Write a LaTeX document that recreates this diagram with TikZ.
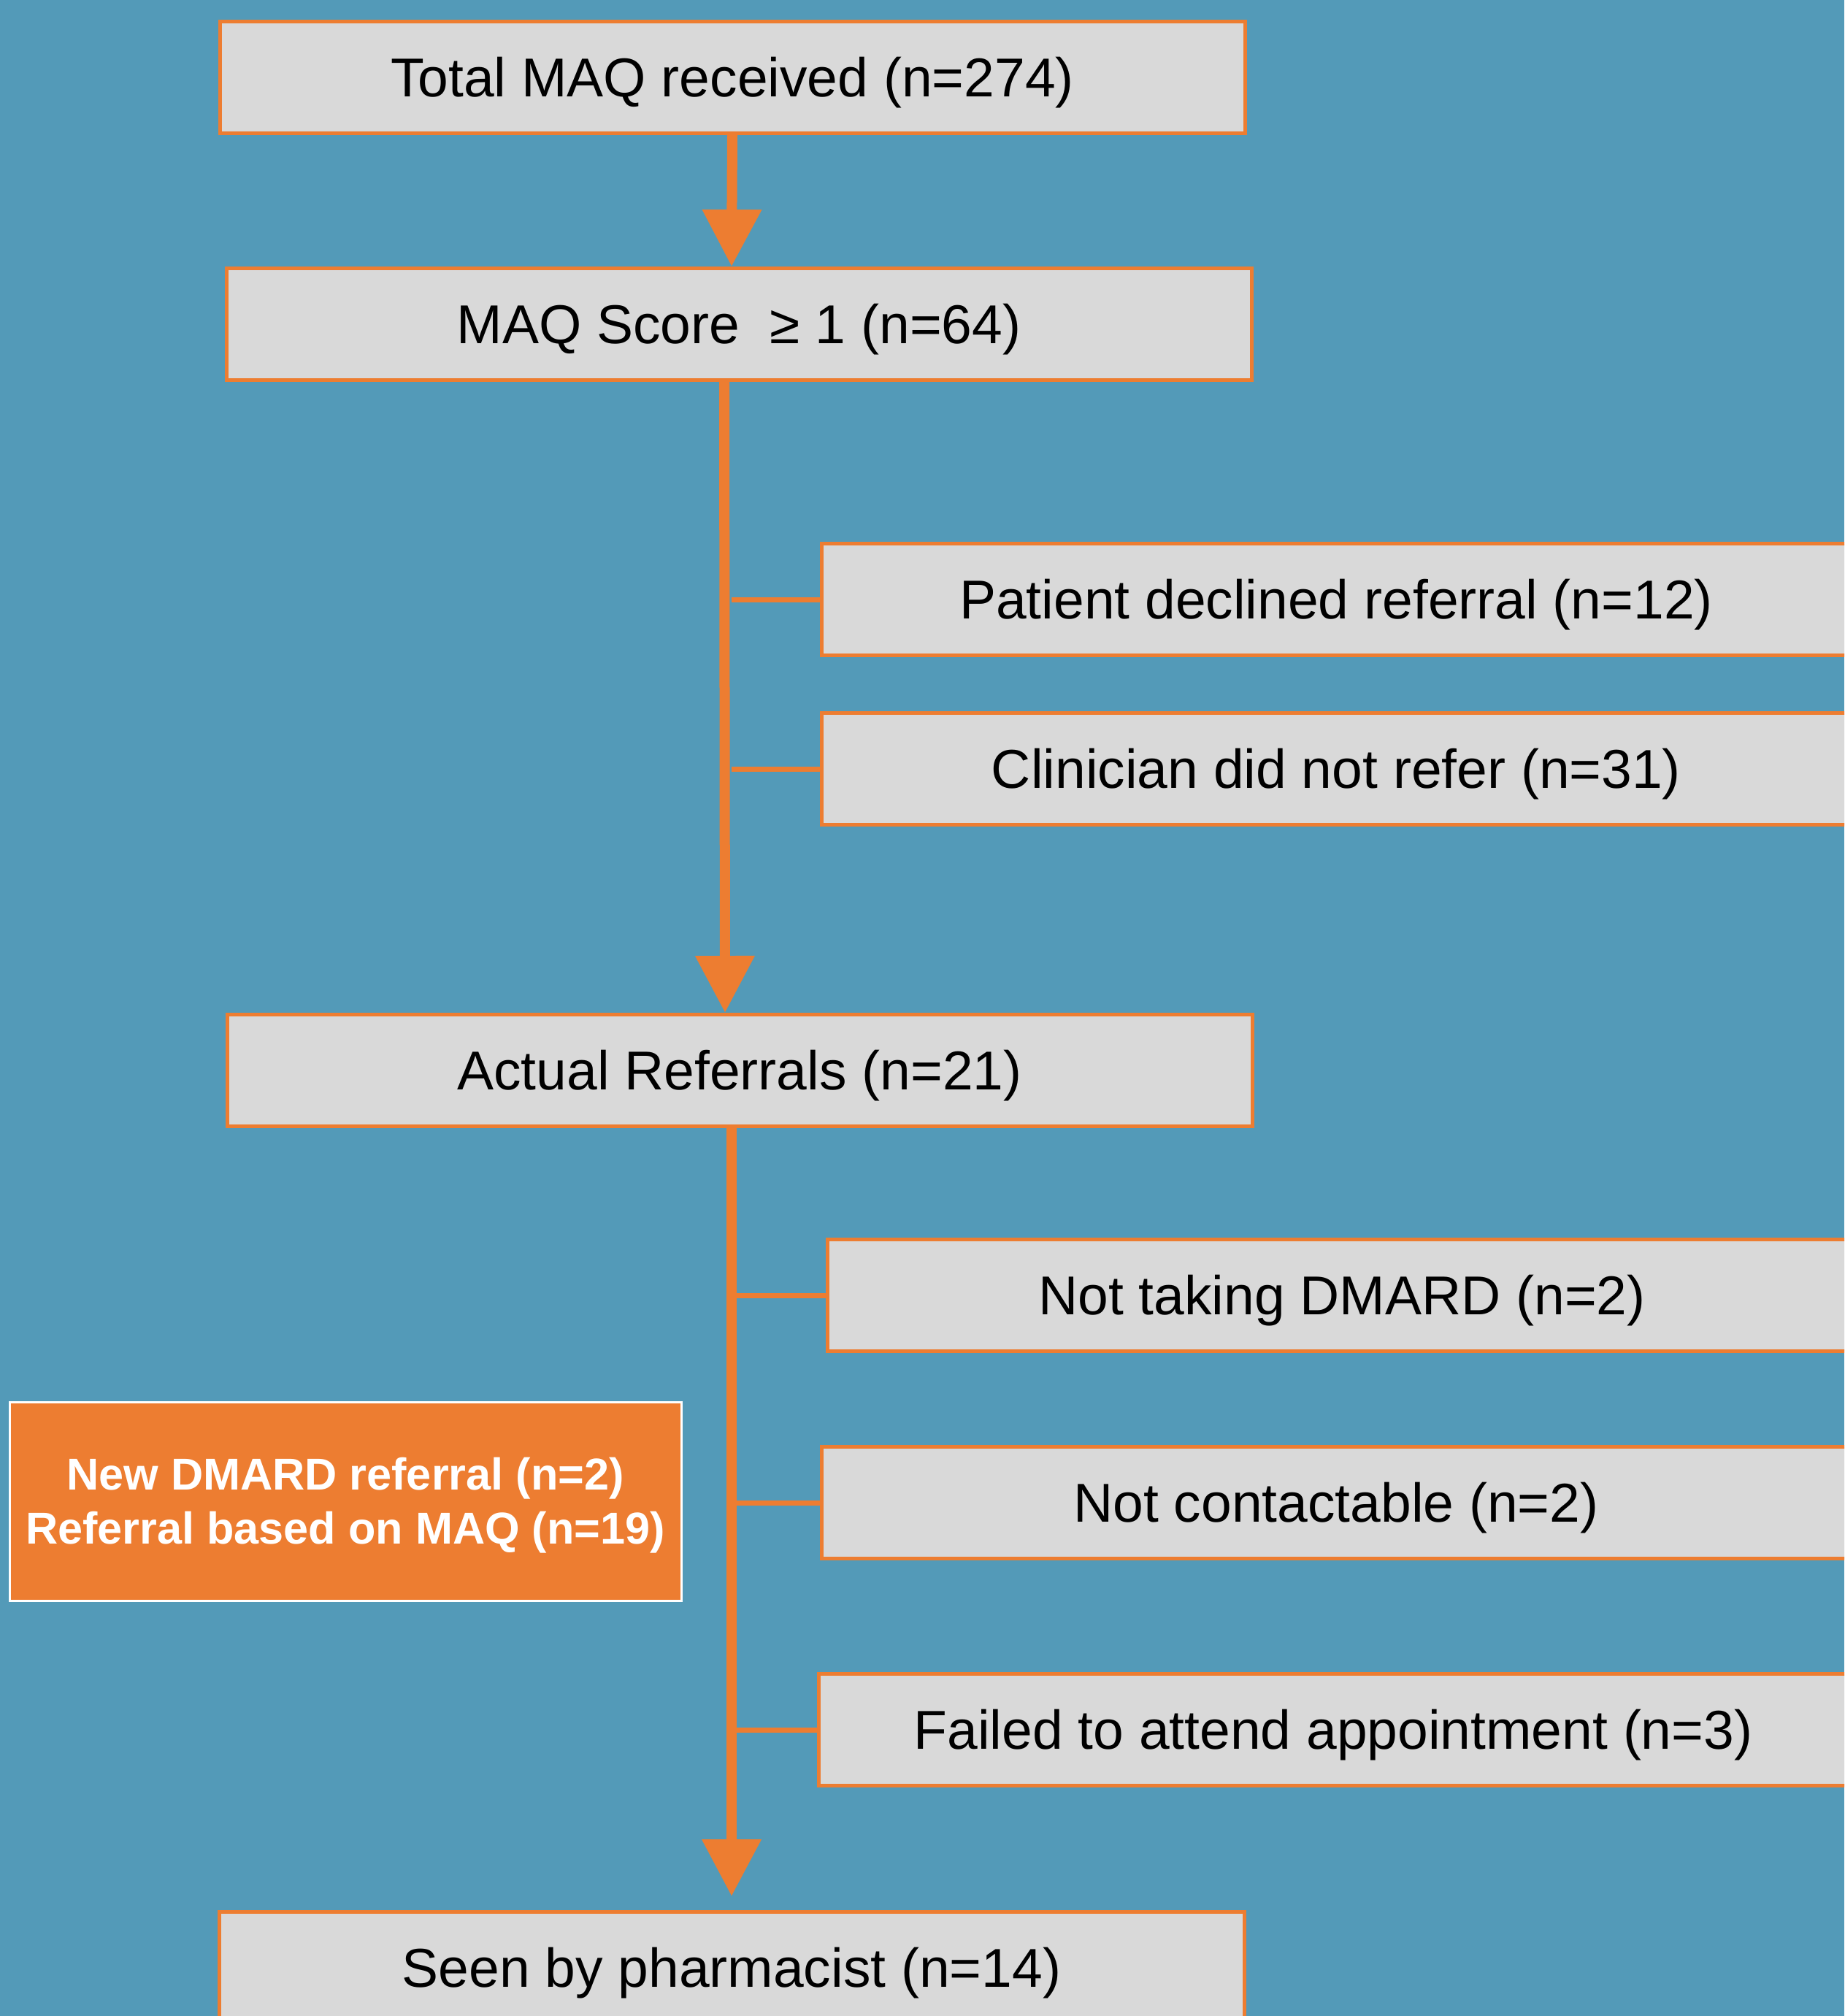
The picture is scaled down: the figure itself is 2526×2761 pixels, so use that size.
\documentclass[tikz,border=0pt]{standalone}
\usepackage{fontspec}
\setmainfont{Liberation Sans}
\usetikzlibrary{arrows.meta}
\definecolor{bgblue}{RGB}{83,154,184}
\definecolor{orng}{RGB}{237,125,49}
\definecolor{boxgrey}{RGB}{217,217,217}
\begin{document}
\begin{tikzpicture}[x=0.25pt,y=-0.25pt,
  flowbox/.style={draw=orng, line width=1.25pt, fill=boxgrey, inner sep=0pt,
    minimum width=351pt, minimum height=38.25pt,
    font=\fontsize{18.75}{22}\selectfont, text height=13.4pt, text depth=0pt},
  sidebox/.style={flowbox, minimum width=352.5pt},
  notebox/.style={draw=white, line width=0.75pt, fill=orng, text=white, inner sep=0pt,
    minimum width=230pt, minimum height=68pt, align=center,
    font=\fontsize{15.3}{18.5}\selectfont\bfseries},
  shaft/.style={draw=orng, line width=3.5pt, -{Triangle[length=19.5pt,width=19.5pt]}},
  branch/.style={draw=orng, line width=1.75pt}
]
\useasboundingbox (0,0) rectangle (2526,2761);
\clip (0,0) rectangle (2526,2761);
\fill[bgblue] (0,0) rectangle (2526,2761);

\node[flowbox] (b1) at (1003,106) {Total MAQ received (n=274)};
\node[flowbox] (b2) at (1012,444) {MAQ Score \ ≥ 1 (n=64)};
\node[flowbox] (b3) at (1013,1466) {Actual Referrals (n=21)};
\node[flowbox] (b4) at (1002,2695) {Seen by pharmacist (n=14)};

\node[sidebox] (p1) at (1830,821) {Patient declined referral (n=12)};
\node[sidebox] (p2) at (1830,1053) {Clinician did not refer (n=31)};
\node[sidebox] (p3) at (1838,1774) {Not taking DMARD (n=2)};
\node[sidebox] (p4) at (1830,2058) {Not contactable (n=2)};
\node[sidebox] (p5) at (1826,2369) {Failed to attend appointment (n=3)};

\node[notebox] (nt) at (473,2056) {\rule{0pt}{13.8pt}New DMARD referral (n=2)\\Referral based on MAQ (n=19)};

\coordinate (sA) at (1002,0);
\coordinate (sB) at (1008,0);

\draw[shaft] (b1.south) -- ([xshift=-2.5pt]b2.north);
\draw[shaft] ([xshift=-5pt]b2.south) -- ([xshift=-5pt]b3.north);
\draw[shaft, shorten >=4.75pt] ([xshift=-2.75pt]b3.south) -- (b4.north);

\draw[branch] (p1.west -| sA) -- (p1.west);
\draw[branch] (p2.west -| sA) -- (p2.west);
\draw[branch] (p3.west -| sB) -- (p3.west);
\draw[branch] (p4.west -| sB) -- (p4.west);
\draw[branch] (p5.west -| sB) -- (p5.west);
\end{tikzpicture}
\end{document}
